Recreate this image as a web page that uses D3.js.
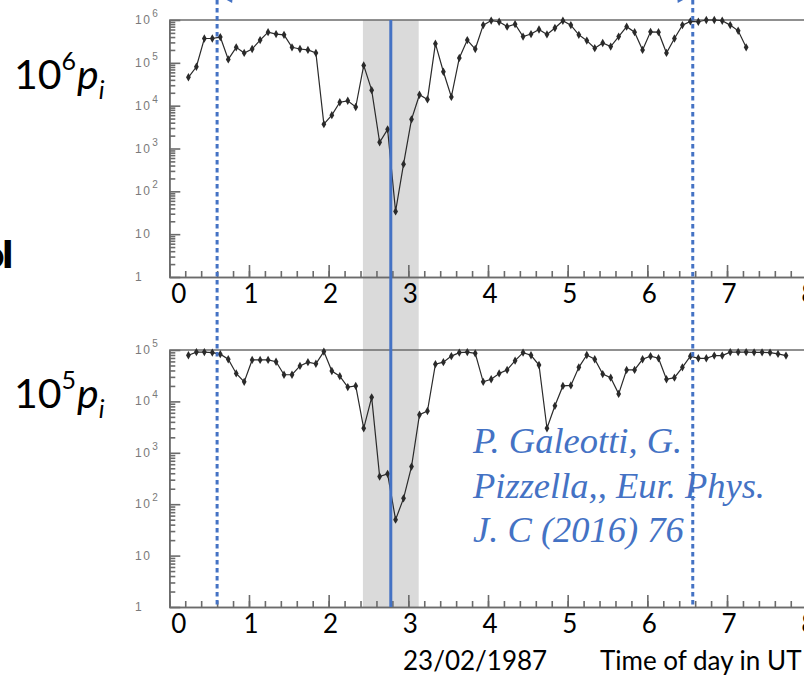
<!DOCTYPE html>
<html><head><meta charset="utf-8">
<script src="https://cdn.jsdelivr.net/npm/d3@7"></script>
<style>
html,body{margin:0;padding:0;background:#fff;overflow:hidden}
svg{display:block}
</style></head><body>
<svg id="chart" width="804" height="675"></svg>
<script>
// sampled every 0.1 h starting at T0 (hours UT, 23/02/1987)
const T0 = 0.24, STEP = 0.1;
const TOP_VALUES = [4.6e4, 8.1e4, 3.7e5, 3.7e5, 4.0e5, 1.2e5, 2.3e5, 1.7e5, 2.1e5, 3.4e5,
  5.2e5, 4.7e5, 4.5e5, 2.3e5, 2.1e5, 2.0e5, 1.7e5, 3.7e3, 6.0e3, 1.2e4,
  1.3e4, 9.3e3, 8.7e4, 2.3e4, 1.4e3, 2.8e3, 34, 430, 4.8e3, 1.8e4,
  1.4e4, 2.8e5, 6.2e4, 1.6e4, 1.3e5, 3.4e5, 2.1e5, 7.6e5, 9.7e5, 9.1e5,
  7.0e5, 8.0e5, 4.1e5, 4.7e5, 6.0e5, 4.6e5, 6.5e5, 9.6e5, 7.6e5, 4.5e5,
  3.3e5, 2.2e5, 2.9e5, 2.4e5, 4.1e5, 7.0e5, 5.2e5, 2.0e5, 5.3e5, 5.2e5,
  1.7e5, 3.7e5, 7.6e5, 9.3e5, 9.1e5, 1.0e6, 1.0e6, 9.6e5, 7.6e5, 5.6e5, 2.3e5];
const BOTTOM_VALUES = [7.9e4, 9.1e4, 9.1e4, 8.9e4, 8.3e4, 6.6e4, 3.5e4, 2.4e4, 6.4e4, 6.4e4,
  6.4e4, 5.9e4, 3.3e4, 3.3e4, 4.9e4, 5.8e4, 5.4e4, 9.3e4, 3.9e4, 3.1e4,
  1.9e4, 2.0e4, 3.0e3, 1.2e4, 346, 390, 50, 130, 540, 5.5e3,
  6.5e3, 5.3e4, 5.8e4, 7.6e4, 8.9e4, 9.1e4, 8.6e4, 2.4e4, 2.7e4, 3.5e4,
  4.1e4, 6.2e4, 8.9e4, 7.9e4, 5.1e4, 3.0e3, 8.2e3, 2.0e4, 2.05e4, 4.6e4,
  8.0e4, 6.6e4, 3.4e4, 2.9e4, 1.4e4, 4.1e4, 4.1e4, 6.6e4, 7.6e4, 6.9e4,
  2.7e4, 2.9e4, 4.6e4, 7.6e4, 6.9e4, 6.9e4, 7.8e4, 7.8e4, 9.1e4, 9.1e4,
  9.1e4, 9.0e4, 9.0e4, 8.9e4, 8.4e4, 7.8e4];
const X_TICKS = [0, 1, 2, 3, 4, 5, 6, 7, 8];
const TOP_EXP = [0, 1, 2, 3, 4, 5, 6];
const BOTTOM_EXP = [0, 1, 2, 3, 4, 5];
const BAND = [2.43, 3.13];      // grey window, hours
const MARK = 2.78;              // solid blue line
const DOTTED = [0.6, 6.57];     // dotted blue lines
const CITATION = ["P. Galeotti, G.", "Pizzella,, Eur. Phys.", "J. C (2016) 76"];

(function () {
  const BLUE = "#4472c4", AXIS = "#6b6b6b", INK = "#2a2a2a";
  const svg = d3.select("#chart");
  const x = d3.scaleLinear([0, 8], [169.3, 806.7]);
  const TOP = {y0: 20, y1: 277}, BOT = {y0: 350, y1: 607};

  // grey window behind everything
  svg.append("rect").attr("x", x(BAND[0])).attr("width", x(BAND[1]) - x(BAND[0]))
    .attr("y", TOP.y0).attr("height", BOT.y1 - TOP.y0).attr("fill", "#dadada");

  function panel(values, box, exps, label) {
    const maxE = exps[exps.length - 1];
    const y = d3.scaleLog([1, Math.pow(10, maxE)], [box.y1, box.y0]);
    const g = svg.append("g");
    const majors = exps.map((e) => Math.pow(10, e));
    const minors = y.ticks().filter((v) => !majors.includes(v));

    const ax = (a) => a.tickSizeOuter(0).tickFormat("");
    g.append("g").attr("transform", `translate(${x(0)},0)`)
      .call(ax(d3.axisLeft(y).tickValues(minors).tickSize(-6)));
    g.append("g").attr("transform", `translate(${x(0)},0)`)
      .call(ax(d3.axisLeft(y).tickValues(majors).tickSize(-11)));
    g.append("g").attr("transform", `translate(0,${box.y1})`)
      .call(ax(d3.axisBottom(x).tickValues(d3.range(0, 8.01, 0.2)).tickSize(-6)));
    g.append("g").attr("transform", `translate(0,${box.y1})`)
      .call(ax(d3.axisBottom(x).tickValues(X_TICKS).tickSize(-12)));
    g.selectAll(".domain, .tick line").attr("stroke", AXIS).attr("stroke-width", 1.6);
    g.append("line").attr("x1", x(0)).attr("x2", 804).attr("y1", box.y0).attr("y2", box.y0)
      .attr("stroke", AXIS).attr("stroke-width", 1.6);

    // small grey ROOT-style labels
    const yl = g.append("g").attr("font-family", "Liberation Sans, Arial, sans-serif")
      .attr("fill", "#7a7a7a").attr("font-size", 12).attr("letter-spacing", 1.5);
    exps.forEach((e) => {
      const t = yl.append("text").attr("x", 135).attr("y", y(Math.pow(10, e)) + 4);
      if (e === 0) t.text("1");
      else if (e === 1) t.text("10");
      else {
        t.append("tspan").text("10");
        t.append("tspan").attr("dx", 1).attr("dy", -7).attr("font-size", 10).text(e);
      }
    });

    // big slide tick numbers
    g.append("g").selectAll("text").data(X_TICKS).join("text")
      .attr("x", (d) => x(d) + 2)
      .attr("text-anchor", (d) => d === 0 ? "start" : "middle")
      .attr("y", box.y1 + 26).attr("font-family", "Lato, sans-serif").attr("font-size", 26)
      .attr("fill", "#000").text((d) => d);

    const line = d3.line().x((d, i) => x(T0 + i * STEP)).y((d) => y(d));
    g.append("path").attr("d", line(values)).attr("fill", "none")
      .attr("stroke", INK).attr("stroke-width", 1.2);
    g.append("g").selectAll("path").data(values).join("path")
      .attr("transform", (d, i) => `translate(${x(T0 + i * STEP)},${y(d)})`)
      .attr("d", d3.symbol(d3.symbolDiamond, 20)).attr("fill", INK);

    // left quantity label
    const q = svg.append("text").attr("x", 14).attr("y", label.base)
      .attr("font-family", "Lato, sans-serif").attr("font-size", 41).attr("fill", "#000");
    q.append("tspan").text("10");
    q.append("tspan").attr("dy", -19).attr("font-size", 25).text(label.exp);
    q.append("tspan").attr("dy", 19).attr("dx", 1).attr("font-style", "italic").text("p");
    q.append("tspan").attr("dy", 10).attr("font-size", 25).attr("font-style", "italic").text("i");
  }

  panel(TOP_VALUES, TOP, TOP_EXP, {base: 89, exp: 6});
  panel(BOTTOM_VALUES, BOT, BOTTOM_EXP, {base: 408, exp: 5});

  // blue guides over the data
  svg.append("line").attr("x1", x(MARK)).attr("x2", x(MARK)).attr("y1", TOP.y0).attr("y2", BOT.y1)
    .attr("stroke", BLUE).attr("stroke-width", 3);
  svg.append("g").selectAll("line").data(DOTTED).join("line")
    .attr("x1", (d) => x(d)).attr("x2", (d) => x(d)).attr("y1", 0).attr("y2", BOT.y1)
    .attr("stroke", BLUE).attr("stroke-width", 3).attr("stroke-dasharray", "4.5,3.5");
  // arrow heads of the span arrow just above the frame
  const [a, b] = DOTTED.map(x);
  svg.append("path").attr("fill", BLUE)
    .attr("d", `M${a - 1},-6L${a + 17},-16L${a + 15},3Z M${b + 1},-6L${b - 17},-16L${b - 15},3Z`);

  // cut-off slide word on the far left
  svg.append("text").attr("x", 12).attr("y", 267).attr("text-anchor", "end")
    .attr("font-family", "Lato, sans-serif").attr("font-weight", 700).attr("font-size", 34)
    .attr("stroke", "#000").attr("stroke-width", 2).text("ol");

  svg.append("g").selectAll("text").data(CITATION).join("text")
    .attr("x", 473).attr("y", (d, i) => 453 + i * 44.5)
    .attr("font-family", "Liberation Serif, Times New Roman, serif").attr("font-style", "italic")
    .attr("font-size", 36.5).attr("fill", BLUE).text((d) => d);

  const foot = svg.append("g").attr("font-family", "Lato, sans-serif").attr("font-size", 26).attr("fill", "#000");
  foot.append("text").attr("x", 403).attr("y", 670).text("23/02/1987");
  foot.append("text").attr("x", 600).attr("y", 670).text("Time of day in UT");
})();
</script>
</body></html>
